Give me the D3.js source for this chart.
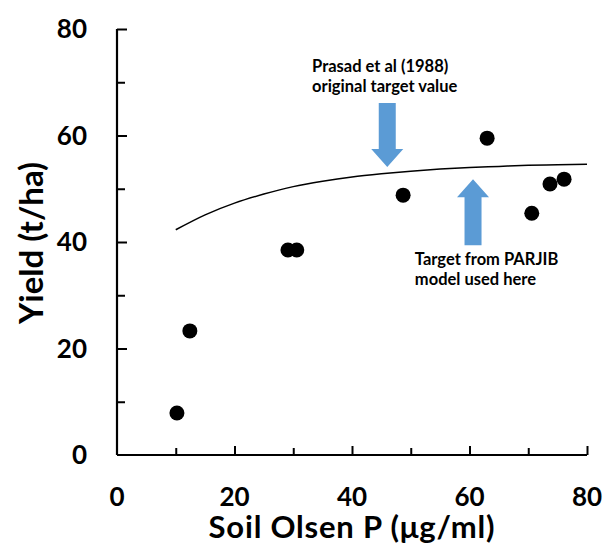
<!DOCTYPE html>
<html>
<head>
<meta charset="utf-8">
<script src="https://cdn.jsdelivr.net/npm/d3@7"></script>
<style>
	body { margin: 0; background: #fff; }
	text { font-family: Lato, "Open Sans", sans-serif; font-weight: bold; }
</style>
</head>
<body>
<div id="chart"></div>
<script>
// measured points
var soilP = [10.2, 12.4, 29.1, 30.6, 48.7, 63.0, 70.6, 73.7, 76.1];
var yieldT = [7.9, 23.3, 38.5, 38.5, 48.8, 59.5, 45.4, 50.9, 51.8];

// response curve
var curveX = [10, 15, 20, 25, 30, 35, 40, 45, 50, 55, 60, 65, 70, 75, 80];
var curveY = [42.3, 45.1, 47.3, 49.0, 50.4, 51.4, 52.2, 52.8, 53.3, 53.7, 54.0, 54.2, 54.4, 54.5, 54.6];

var xTicks = [0, 20, 40, 60, 80];
var yTicks = [0, 20, 40, 60, 80];

// arrows: tip position (data units) and direction
var arrowTipX = [46.0, 60.6];
var arrowTipY = [54.1, 51.8];
var arrowLen = [12.0, 12.4];
var arrowDir = ['down', 'up'];

var noteLines = [["Prasad et al (1988)", "original target value"], ["Target from PARJIB", "model used here"]];
var noteX = [33.2, 50.7];
var noteY = [72.0, 35.7];

var width = 606, height = 543;
var plotLeft = 117, plotRight = 587, plotTop = 29, plotBottom = 455;

var svg = d3.select('#chart')
	.append('svg')
	.attr('width', width)
	.attr('height', height);

svg.append('rect').attr('width', width).attr('height', height).attr('fill', '#fff');

var x = d3.scaleLinear().domain([0, 80]).range([plotLeft, plotRight]);
var y = d3.scaleLinear().domain([0, 80]).range([plotBottom, plotTop]);

// y axis, ticks pointing inwards
var yAxis = svg.append('g')
	.attr('transform', 'translate(' + plotLeft + ',0)')
	.call(d3.axisRight(y).tickValues(d3.range(10, 81, 10)).tickSize(0).tickFormat(''));
yAxis.select('.domain').remove();
yAxis.append('line').attr('x1', 0).attr('x2', 0).attr('y1', y(0)).attr('y2', y(80))
	.attr('stroke', '#000').attr('stroke-width', 2.2);
yAxis.selectAll('.tick line')
	.attr('x2', function (d) { return d % 20 === 0 ? 10 : 8; })
	.attr('stroke', '#000').attr('stroke-width', 2);

var xAxis = svg.append('g')
	.attr('transform', 'translate(0,' + plotBottom + ')')
	.call(d3.axisTop(x).tickValues(d3.range(10, 81, 10)).tickSize(0).tickFormat(''));
xAxis.select('.domain').remove();
xAxis.append('line').attr('x1', x(0)).attr('x2', x(80)).attr('y1', 0).attr('y2', 0)
	.attr('stroke', '#000').attr('stroke-width', 2.2);
xAxis.selectAll('.tick line')
	.attr('y2', function (d) { return d % 20 === 0 ? -9 : -7; })
	.attr('stroke', '#000').attr('stroke-width', 2);

// tick labels
svg.selectAll('.ylab')
	.data(yTicks)
	.enter()
	.append('text')
	.attr('class', 'ylab')
	.attr('x', plotLeft - 30)
	.attr('y', function (d) { return y(d); })
	.attr('dy', '0.36em')
	.attr('text-anchor', 'end')
	.attr('font-size', 26)
	.text(function (d) { return d; });

svg.selectAll('.xlab')
	.data(xTicks)
	.enter()
	.append('text')
	.attr('class', 'xlab')
	.attr('x', function (d) { return x(d); })
	.attr('y', 497)
	.attr('dy', '0.36em')
	.attr('text-anchor', 'middle')
	.attr('font-size', 26)
	.text(function (d) { return d; });

// axis titles
svg.append('text')
	.attr('x', 352)
	.attr('y', 538)
	.attr('text-anchor', 'middle')
	.attr('font-size', 31)
	.attr('letter-spacing', 0.8)
	.text('Soil Olsen P (μg/ml)');

svg.append('text')
	.attr('transform', 'translate(43,243) rotate(-90)')
	.attr('text-anchor', 'middle')
	.attr('font-size', 33)
	.text('Yield (t/ha)');

// fitted curve
var line = d3.line()
	.x(function (d) { return x(d[0]); })
	.y(function (d) { return y(d[1]); })
	.curve(d3.curveMonotoneX);

svg.append('path')
	.datum(d3.zip(curveX, curveY))
	.attr('d', line)
	.attr('fill', 'none')
	.attr('stroke', '#000')
	.attr('stroke-width', 1.5);

// arrows
arrowTipX.forEach(function (ax, i) {
	var tx = x(ax), ty = y(arrowTipY[i]);
	var len = Math.abs(y(0) - y(arrowLen[i]));
	var s = arrowDir[i] === 'down' ? -1 : 1;
	var headH = 18, headW = 16, shaftW = 8.5;
	var pts = [
		[tx, ty],
		[tx + headW, ty + s * headH],
		[tx + shaftW, ty + s * headH],
		[tx + shaftW, ty + s * len],
		[tx - shaftW, ty + s * len],
		[tx - shaftW, ty + s * headH],
		[tx - headW, ty + s * headH]
	];
	svg.append('path')
		.attr('d', 'M' + pts.join('L') + 'Z')
		.attr('fill', '#5b9bd5');
});

// annotation text
noteLines.forEach(function (lines, i) {
	var t = svg.append('text')
		.attr('x', x(noteX[i]))
		.attr('y', y(noteY[i]))
		.attr('font-size', 16.5);
	lines.forEach(function (s, j) {
		t.append('tspan')
			.attr('x', x(noteX[i]))
			.attr('dy', j === 0 ? 0 : 20)
			.text(s);
	});
});

// points
svg.selectAll('.pt')
	.data(d3.zip(soilP, yieldT))
	.enter()
	.append('circle')
	.attr('class', 'pt')
	.attr('cx', function (d) { return x(d[0]); })
	.attr('cy', function (d) { return y(d[1]); })
	.attr('r', 7.5)
	.attr('fill', '#000');
</script>
</body>
</html>
